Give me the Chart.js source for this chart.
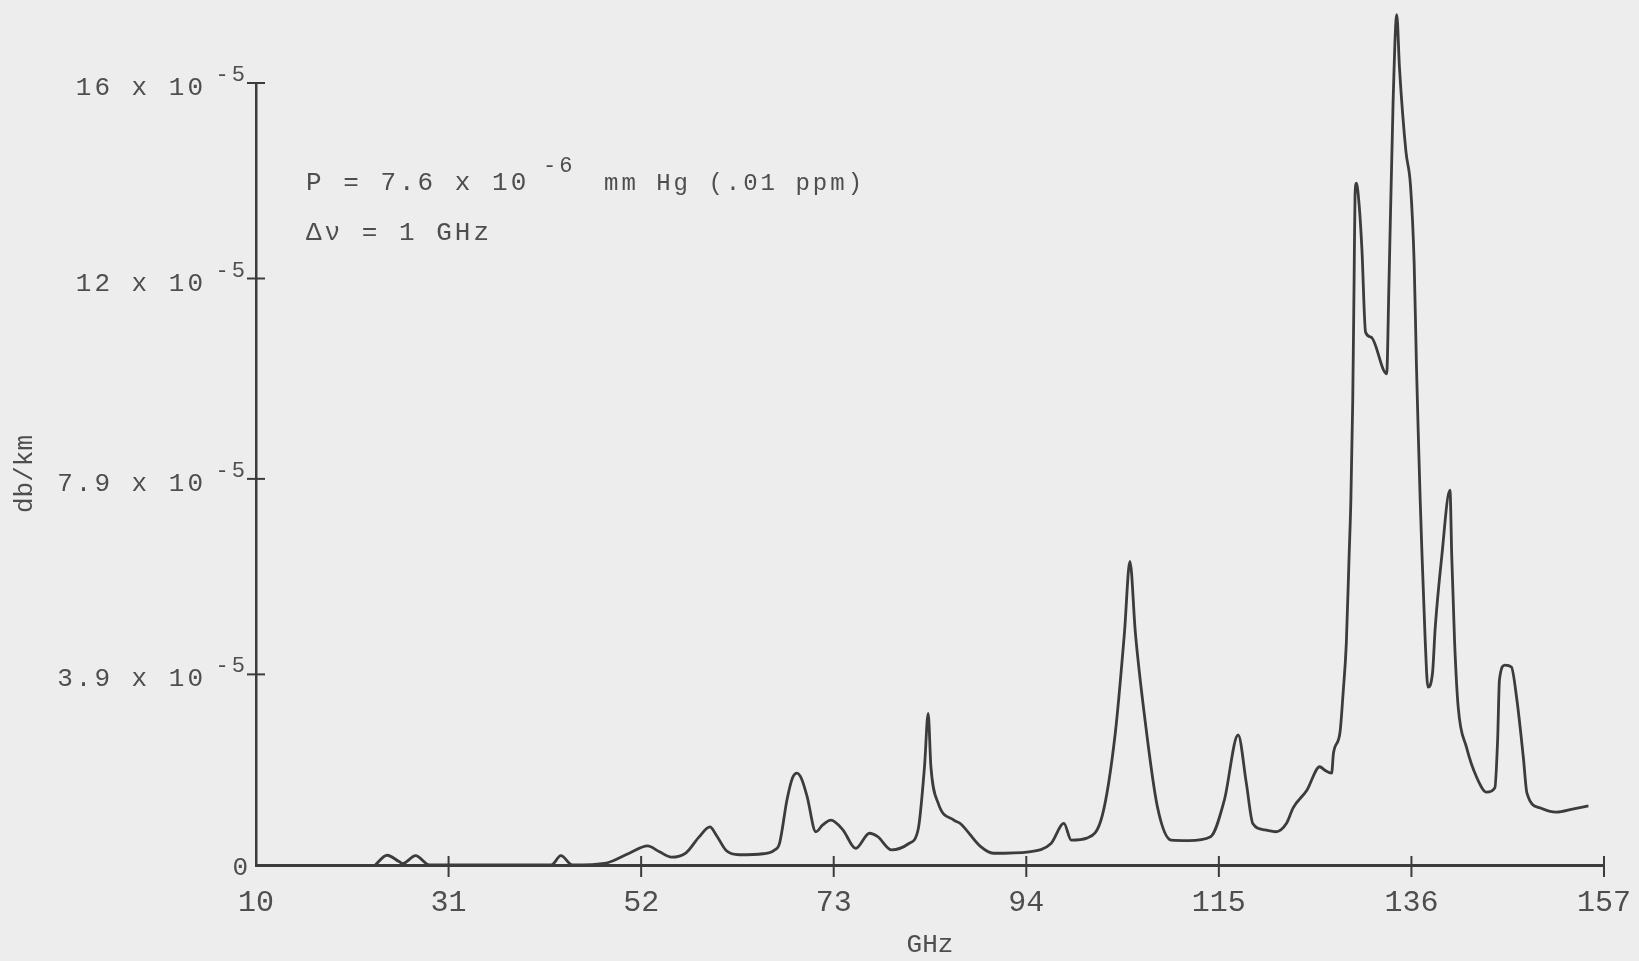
<!DOCTYPE html>
<html>
<head>
<meta charset="utf-8">
<title>Attenuation spectrum</title>
<script src="https://cdn.jsdelivr.net/npm/chart.js@4.4.0/dist/chart.umd.min.js"></script>
<style>
  html, body { margin: 0; padding: 0; background: #ededed; }
  canvas { display: block; }
</style>
</head>
<body>
<canvas id="spectrumChart" width="1639" height="961"></canvas>
<script>
// Curve: frequency in GHz, attenuation in units of 10^-5 db/km
const frequencies = [
  23.0, 24.3, 25.6, 26.0, 27.4, 28.9, 42.2, 43.25, 44.5, 48.2,
  50.7, 52.7, 54.0, 55.3, 56.9, 58.3, 59.5, 60.2, 61.3, 62.7,
  65.3, 66.5, 67.1, 67.9, 68.5, 69.0, 69.5, 70.1, 71.05, 71.8, 72.7,
  74.0, 75.4, 76.9, 77.8, 79.3, 81.2, 82.2, 82.9, 83.3, 83.6,
  84.4, 86.1, 86.8, 89.0, 90.4, 94.3, 96.7, 98.1, 98.9, 100.6,
  102.3, 103.7, 104.7, 105.3, 105.9, 106.9, 108.3, 109.8, 111.7, 114.1,
  115.6, 117.1, 118.0, 118.7, 120.0, 121.2, 122.4, 123.1, 124.6, 126.0,
  126.55, 127.3, 127.5, 128.2, 128.55, 128.9, 129.2, 129.4, 129.6, 129.75,
  129.85, 130.0, 130.3, 130.6, 131.0, 131.6, 133.3, 133.55, 134.0, 134.4,
  134.7, 135.4, 135.9, 136.3, 136.55, 136.75, 136.95, 137.1, 137.5, 137.8,
  138.3, 138.6, 139.3, 140.2, 140.4, 140.7, 141.1, 142.0, 143.1, 144.2,
  145.1, 145.4, 145.6, 146.2, 146.9, 147.5, 148.2, 148.6, 150.0, 151.8,
  153.7, 155.3
];
const attenuation = [
  0, 0.20, 0.07, 0.03, 0.19, 0, 0, 0.19, 0, 0.04,
  0.24, 0.39, 0.27, 0.16, 0.25, 0.57, 0.78, 0.61, 0.29, 0.21,
  0.23, 0.30, 0.45, 1.33, 1.78, 1.88, 1.76, 1.40, 0.68, 0.82, 0.92,
  0.72, 0.34, 0.65, 0.58, 0.31, 0.44, 0.72, 2.01, 3.10, 2.01,
  1.26, 0.92, 0.85, 0.38, 0.24, 0.27, 0.44, 0.85, 0.51, 0.55,
  1.02, 2.69, 4.74, 6.21, 4.74, 3.04, 1.19, 0.51, 0.50, 0.58,
  1.33, 2.66, 1.67, 0.85, 0.72, 0.68, 0.86, 1.17, 1.53, 2.01,
  1.94, 1.88, 2.29, 2.70, 3.52, 4.54, 6.3, 7.5, 9.5, 12.0,
  13.7, 13.95, 13.5, 12.6, 10.9, 10.8, 10.05, 11.9, 15.6, 17.4,
  16.3, 14.6, 13.9, 12.3, 10.2, 8.8, 7.5, 6.65, 4.60, 3.64,
  3.93, 4.87, 6.30, 7.67, 6.30, 4.60, 3.23, 2.41, 1.80, 1.49,
  1.58, 2.56, 3.79, 4.09, 4.05, 3.38, 2.21, 1.47, 1.17, 1.08,
  1.15, 1.21
];

// Axis ticks
const xTickValues = [10, 31, 52, 73, 94, 115, 136, 157];
const yTickValues = [0, 3.9, 7.9, 12, 16];
const yTickLabels = ["0", "3.9", "7.9", "12", "16"];
const yTickExponent = "-5";

// Notes typed on the plot
const pressureNote = ["P = 7.6 x 10", "-6", "mm Hg (.01 ppm)"];
const bandwidthNote = "\u0394\u03bd = 1 GHz";

const typewriter = "'Liberation Mono', 'DejaVu Sans Mono', monospace";
const inkColor = "#3c3c3c";
const textColor = "#4e4e4e";
const paperColor = "#ededed";

// paper background, crossing tick marks and the typed labels
const typewriterPlugin = {
  id: "typewriter",
  beforeDraw(chart) {
    const ctx = chart.ctx;
    ctx.save();
    ctx.fillStyle = paperColor;
    ctx.fillRect(0, 0, chart.width, chart.height);
    ctx.restore();
  },
  afterDraw(chart) {
    const ctx = chart.ctx;
    const xScale = chart.scales.x;
    const yScale = chart.scales.y;
    const axisY = yScale.getPixelForValue(0);
    const axisX = xScale.getPixelForValue(xTickValues[0]);

    ctx.save();
    ctx.strokeStyle = inkColor;
    ctx.lineWidth = 2;
    xTickValues.slice(1).forEach((v) => {
      const px = xScale.getPixelForValue(v);
      ctx.beginPath();
      ctx.moveTo(px, axisY - 9);
      ctx.lineTo(px, axisY + 12);
      ctx.stroke();
    });
    yTickValues.slice(1).forEach((v) => {
      const py = yScale.getPixelForValue(v);
      ctx.beginPath();
      ctx.moveTo(axisX - 9, py);
      ctx.lineTo(axisX + 9, py);
      ctx.stroke();
    });

    ctx.fillStyle = textColor;
    ctx.letterSpacing = "3px";
    ctx.textBaseline = "alphabetic";

    // y tick labels with a raised exponent
    ctx.textAlign = "right";
    yTickValues.forEach((v, i) => {
      const py = yScale.getPixelForValue(v);
      ctx.font = "26px " + typewriter;
      if (v === 0) {
        ctx.fillText(yTickLabels[i], axisX - 5, py + 10);
        return;
      }
      ctx.fillText(yTickLabels[i] + " x 10", axisX - 50, py + 12);
      ctx.font = "22px " + typewriter;
      ctx.fillText(yTickExponent, axisX - 8, py - 2);
    });

    // notes
    ctx.textAlign = "left";
    ctx.font = "26px " + typewriter;
    ctx.fillText(pressureNote[0], 306, 190);
    ctx.font = "22px " + typewriter;
    ctx.fillText(pressureNote[1], 543, 172);
    ctx.font = "24px " + typewriter;
    ctx.fillText(pressureNote[2], 604, 190);
    ctx.font = "26px " + typewriter;
    ctx.fillText(bandwidthNote, 306, 240);
    ctx.restore();
  },
};

const ctx = document.getElementById("spectrumChart").getContext("2d");
const spectrumChart = new Chart(ctx, {
  type: "line",
  data: {
    datasets: [
      {
        label: "Attenuation",
        data: frequencies.map((f, i) => ({ x: f, y: attenuation[i] })),
        borderColor: inkColor,
        borderWidth: 2.8,
        pointRadius: 0,
        cubicInterpolationMode: "monotone",
        fill: false,
        clip: false,
      },
    ],
  },
  options: {
    responsive: false,
    animation: false,
    layout: {
      padding: { top: 83, right: 35, bottom: 0, left: 0 },
    },
    scales: {
      x: {
        type: "linear",
        min: 10,
        max: 157,
        afterBuildTicks: (scale) => {
          scale.ticks = xTickValues.map((v) => ({ value: v }));
        },
        afterFit: (scale) => {
          scale.height = 96;
          scale.paddingLeft = 0;
          scale.paddingRight = 0;
        },
        grid: { display: false, drawTicks: false },
        border: { display: true, color: inkColor, width: 3 },
        ticks: {
          color: textColor,
          padding: 20,
          maxRotation: 0,
          autoSkip: false,
          font: { family: typewriter, size: 30 },
        },
        title: {
          display: true,
          text: "GHz",
          color: textColor,
          padding: { top: 0, bottom: 0 },
          font: { family: typewriter, size: 26 },
        },
      },
      y: {
        type: "linear",
        min: 0,
        max: 16,
        afterBuildTicks: (scale) => {
          scale.ticks = yTickValues.map((v) => ({ value: v }));
        },
        afterFit: (scale) => {
          scale.width = 256;
          scale.paddingTop = 0;
          scale.paddingBottom = 0;
        },
        grid: { display: false, drawTicks: false },
        border: { display: true, color: inkColor, width: 2.5 },
        ticks: { display: false },
        title: {
          display: true,
          text: "db/km",
          color: textColor,
          padding: { top: 10, bottom: 0 },
          font: { family: typewriter, size: 26 },
        },
      },
    },
    plugins: {
      legend: { display: false },
      tooltip: { enabled: false },
    },
  },
  plugins: [typewriterPlugin],
});
</script>
</body>
</html>
